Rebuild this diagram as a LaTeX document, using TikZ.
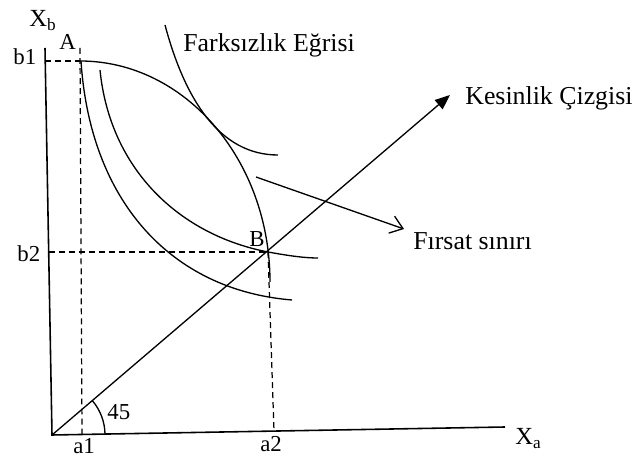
\documentclass[tikz,border=0pt]{standalone}
\usepackage{fontspec}
\setmainfont{Liberation Serif}
\usetikzlibrary{arrows.meta, positioning}

\begin{document}
\begin{tikzpicture}[x=0.02cm, y=0.02cm,
  axis/.style={line width=0.9pt},
  curve/.style={line width=0.75pt},
  guide/.style={line width=0.7pt, dash pattern=on 3.4pt off 2.3pt},
  lbl/.style={inner sep=0pt, anchor=base west, font=\fontsize{13}{15}\selectfont},
  title/.style={inner sep=0pt, anchor=base west, font=\fontsize{14.7}{17}\selectfont},
  arr/.style={-{Triangle[length=3mm, width=2.4mm]}, line width=0.75pt},
  barb/.style={-{Straight Barb[length=2.4mm, width=3.6mm]}, line width=0.75pt}
]
\useasboundingbox (0,0) rectangle (635,459);

% axes
\coordinate (O) at (52,24);
\coordinate (ytop) at (45,411);
\coordinate (xend) at (505,32);
\draw[axis] (ytop) -- (O) -- (xend);
\node[lbl, font=\fontsize{14}{16}\selectfont] (xb) at (29,432) {X\textsubscript{b}};
\node[lbl, font=\fontsize{14}{16}\selectfont] (xa) at (515,14) {X\textsubscript{a}};

% points and guides
\coordinate (A) at (80,398);
\coordinate (B) at (268,207);
\coordinate (b1) at (45.2,398);
\coordinate (b2) at (48.7,207);
\coordinate (a1) at (82,24.5);
\coordinate (a2) at (274,28);
\draw[guide] (b1) -- (A);
\draw[guide] (80,411) -- (a1);
\draw[guide] (b2) -- (B);
\draw[guide] (B) -- (a2);
\node[lbl] (lb1) at (13,394) {b1};
\node[lbl] (lb2) at (17,197) {b2};
\node[lbl] (la1) at (73,5) {a1};
\node[lbl] (la2) at (260,7) {a2};
\node[lbl] (lA) at (59,409) {A};
\node[lbl] (lB) at (249,212) {B};

% opportunity frontier
\draw[curve] (A) .. controls (185,398) and (270,299) .. (270,177);
% indifference curves
\draw[curve] (81,398) .. controls (90,259) and (170,169) .. (292,159);
\draw[curve] (100,389) .. controls (110,289) and (180,224) .. (B)
  .. controls (290,203) and (305,201) .. (318,201);
\draw[curve] (165,434) .. controls (185,359) and (220,304) .. (278,304);

% certainty line
\coordinate (tip) at (450,364);
\draw[arr] (O) -- (tip);
\draw[curve] (O) ++(1:53) arc[start angle=1, end angle=40.5, radius=53];
\node[lbl] (deg) at (107,39) {45};
\node[title] (kes) at (465,354) {Kesinlik Çizgisi};

% labels
\node[title] (fark) at (183,407) {Farksızlık Eğrisi};
\coordinate (fs) at (256,282);
\coordinate (fe) at (404,230);
\draw[barb] (fs) -- (fe);
\node[title] (firsat) at (413,209) {Fırsat sınırı};
\end{tikzpicture}
\end{document}
